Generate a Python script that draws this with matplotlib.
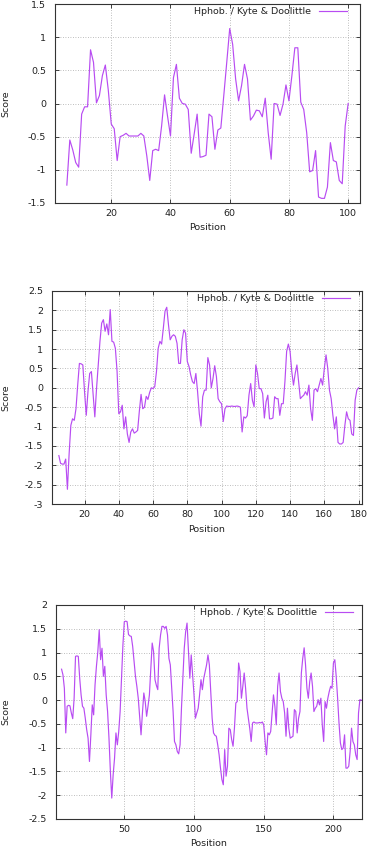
import numpy as np
import matplotlib
matplotlib.use("Agg")
import matplotlib.pyplot as plt

plt.rcParams['font.family'] = ['DejaVu Sans']

legend_label = "Hphob. / Kyte & Doolittle"
x_label = "Position"
y_label = "Score"

# Panel 1: positions 5..100
pos1 = list(range(5, 101))
score1 = [-1.23, -0.55, -0.70, -0.89, -0.96, -0.16, -0.05, -0.05, 0.81, 0.62,
          0.01, 0.12, 0.42, 0.58, 0.20, -0.31, -0.38, -0.86, -0.50, -0.48,
          -0.45, -0.49, -0.49, -0.49, -0.49, -0.45, -0.49, -0.79, -1.16, -0.71,
          -0.69, -0.71, -0.34, 0.13, -0.19, -0.49, 0.39, 0.59, 0.08, 0.00,
          -0.01, -0.09, -0.75, -0.46, -0.16, -0.81, -0.80, -0.78, -0.16, -0.20,
          -0.69, -0.40, -0.37, 0.12, 0.62, 1.13, 0.89, 0.37, 0.04, 0.27,
          0.59, 0.37, -0.25, -0.19, -0.10, -0.11, -0.20, 0.08, -0.44, -0.84,
          0.00, -0.01, -0.18, -0.01, 0.28, 0.04, 0.42, 0.84, 0.84, 0.02,
          -0.09, -0.44, -1.03, -1.01, -0.71, -1.41, -1.43, -1.43, -1.26, -0.59,
          -0.86, -0.88, -1.16, -1.21, -0.34, 0.00]

# Panel 2: positions 5..180
pos2 = list(range(5, 181))
score2 = [-1.75, -1.95, -1.97, -1.97, -1.84, -2.62, -1.70, -0.97, -0.80, -0.84,
          -0.54, 0.07, 0.63, 0.62, 0.59, -0.10, -0.71, -0.10, 0.37, 0.42,
          -0.15, -0.75, -0.02, 0.59, 1.20, 1.67, 1.76, 1.46, 1.65, 1.37,
          2.02, 1.20, 1.18, 1.02, 0.42, -0.67, -0.62, -0.45, -1.06, -0.75,
          -1.19, -1.41, -1.14, -1.06, -1.17, -1.14, -1.10, -0.60, -0.17, -0.54,
          -0.50, -0.22, -0.30, -0.12, 0.00, -0.02, 0.03, 0.42, 1.02, 1.20,
          1.13, 1.54, 1.98, 2.08, 1.63, 1.24, 1.33, 1.37, 1.33, 1.15,
          0.63, 0.63, 1.24, 1.50, 1.41, 0.68, 0.55, 0.33, 0.16, 0.11,
          0.37, -0.10, -0.67, -0.99, -0.23, -0.06, -0.06, 0.78, 0.59, 0.00,
          0.24, 0.57, 0.29, -0.28, -0.36, -0.41, -0.87, -0.54, -0.47, -0.48,
          -0.48, -0.47, -0.48, -0.48, -0.47, -0.48, -0.50, -1.14, -0.75, -0.78,
          -0.72, -0.19, 0.11, -0.32, -0.49, 0.59, 0.37, -0.02, -0.02, -0.15,
          -0.78, -0.36, -0.19, -0.80, -0.80, -0.78, -0.23, -0.28, -0.28, -0.71,
          -0.41, -0.41, 0.16, 0.94, 1.13, 0.94, 0.42, 0.07, 0.37, 0.59,
          0.16, -0.28, -0.23, -0.19, -0.10, -0.19, 0.07, -0.54, -0.84, -0.06,
          -0.02, -0.10, 0.07, 0.24, 0.07, 0.50, 0.85, 0.50, -0.06, -0.28,
          -0.71, -1.06, -0.75, -1.41, -1.45, -1.45, -1.41, -0.97, -0.62, -0.80,
          -0.84, -1.19, -1.23, -0.32, -0.06, 0.00]

# Panel 3: positions 5..220
pos3 = list(range(5, 221))
score3 = [0.65, 0.53, 0.25, -0.69, -0.13, -0.11, -0.12, -0.27, -0.39, 0.04,
          0.92, 0.93, 0.92, 0.46, 0.11, -0.13, -0.17, -0.38, -0.62, -0.80,
          -1.29, -0.73, -0.10, -0.31, 0.32, 0.71, 1.02, 1.48, 0.85, 1.09,
          0.50, 0.71, 0.11, -0.24, -0.80, -1.50, -2.06, -1.57, -1.22, -0.69,
          -0.94, -0.66, -0.24, 0.46, 1.16, 1.65, 1.66, 1.65, 1.38, 1.35,
          1.34, 1.13, 0.81, 0.50, 0.29, 0.04, -0.34, -0.73, -0.27, 0.15,
          -0.03, -0.34, -0.13, 0.11, 0.64, 1.20, 1.02, 0.43, 0.31, 0.22,
          1.09, 1.37, 1.55, 1.55, 1.51, 1.55, 1.37, 0.88, 0.74, 0.25,
          -0.24, -0.87, -0.94, -1.08, -1.13, -0.94, -0.17, 0.46, 1.09, 1.44,
          1.62, 1.02, 0.46, 0.95, 0.53, 0.11, -0.38, -0.27, -0.17, 0.11,
          0.43, 0.22, 0.46, 0.60, 0.74, 0.95, 0.74, 0.18, -0.38, -0.69,
          -0.74, -0.76, -0.94, -1.15, -1.43, -1.67, -1.78, -1.04, -1.60, -1.39,
          -0.59, -0.62, -0.83, -0.97, -0.59, -0.06, -0.03, 0.78, 0.60, 0.04,
          0.29, 0.57, 0.25, -0.17, -0.38, -0.60, -0.87, -0.48, -0.46, -0.48,
          -0.48, -0.48, -0.47, -0.48, -0.46, -0.52, -0.87, -1.15, -0.69, -0.73,
          -0.66, -0.27, 0.11, -0.13, -0.52, 0.29, 0.57, 0.18, 0.04, -0.03,
          -0.27, -0.76, -0.17, -0.59, -0.80, -0.78, -0.76, -0.20, -0.24, -0.69,
          -0.38, -0.24, 0.57, 0.88, 1.10, 0.74, 0.25, 0.04, 0.39, 0.57,
          0.29, -0.24, -0.17, -0.13, 0.01, -0.10, 0.04, -0.52, -0.87, -0.03,
          -0.17, 0.04, 0.18, 0.29, 0.25, 0.78, 0.85, 0.50, 0.04, -0.48,
          -0.90, -1.04, -1.01, -0.73, -1.43, -1.43, -1.39, -1.08, -0.59, -0.87,
          -0.94, -1.15, -1.25, -0.27, 0.01, 0.00]

xticks1 = [20, 40, 60, 80, 100]
xticks2 = [20, 40, 60, 80, 100, 120, 140, 160, 180]
xticks3 = [50, 100, 150, 200]
yticks1 = [-1.5, -1, -0.5, 0, 0.5, 1, 1.5]
yticks2 = [-3, -2.5, -2, -1.5, -1, -0.5, 0, 0.5, 1, 1.5, 2, 2.5]
yticks3 = [-2.5, -2, -1.5, -1, -0.5, 0, 0.5, 1, 1.5, 2]

W, H = 368, 850
fig = plt.figure(figsize=(W / 100, H / 100), dpi=100)

FS = 6.8
LINE_COLOR = '#b84cf2'

panels = [
    dict(box=(55, 360, 4, 203), xlim=(1, 104), ylim=(-1.5, 1.5), x=pos1, y=score1,
         xt=xticks1, yt=yticks1, ylab_x=6, xlab_y=228),
    dict(box=(52, 362, 291, 504), xlim=(1, 182), ylim=(-3, 2.5), x=pos2, y=score2,
         xt=xticks2, yt=yticks2, ylab_x=6, xlab_y=530),
    dict(box=(56, 362, 605, 819), xlim=(1, 220.5), ylim=(-2.5, 2), x=pos3, y=score3,
         xt=xticks3, yt=yticks3, ylab_x=6, xlab_y=843),
]
leg_right = [347, 350, 353]

for p, lr in zip(panels, leg_right):
    l, r, t, b = p['box']
    ax = fig.add_axes([l / W, 1 - b / H, (r - l) / W, (b - t) / H])
    ax.plot(p['x'], p['y'], color=LINE_COLOR, lw=0.85, label=legend_label)
    ax.set_xlim(*p['xlim'])
    ax.set_ylim(*p['ylim'])
    ax.set_xticks(p['xt'])
    ax.set_yticks(p['yt'])
    ax.set_yticklabels(['%g' % v for v in p['yt']])
    ax.grid(True, color='#a8a8a8', linestyle=(0, (1, 2)), linewidth=0.6)
    ax.tick_params(direction='in', length=3, width=0.6, labelsize=FS,
                   top=True, right=True, colors='#222222')
    ax.tick_params(axis='y', pad=6.5)
    ax.tick_params(axis='x', pad=4)
    for s in ax.spines.values():
        s.set_linewidth(0.8)
        s.set_color('#333333')
    pw, ph = r - l, b - t
    ax.set_xlabel(x_label, fontsize=FS, color='#222222', va='center')
    ax.set_ylabel(y_label, fontsize=FS, color='#222222', va='center')
    ax.xaxis.set_label_coords(0.5, -(p['xlab_y'] - b) / ph)
    ax.yaxis.set_label_coords(-(l - p['ylab_x']) / pw, 0.5)
    leg = ax.legend(loc='center right',
                    bbox_to_anchor=((lr - l) / pw, 1 - 7.5 / ph),
                    frameon=False, fontsize=FS, markerfirst=False,
                    handlelength=3.0, handletextpad=0.8,
                    borderpad=0, borderaxespad=0)
    for txt in leg.get_texts():
        txt.set_color('#222222')

fig.savefig('out.png', dpi=100)
